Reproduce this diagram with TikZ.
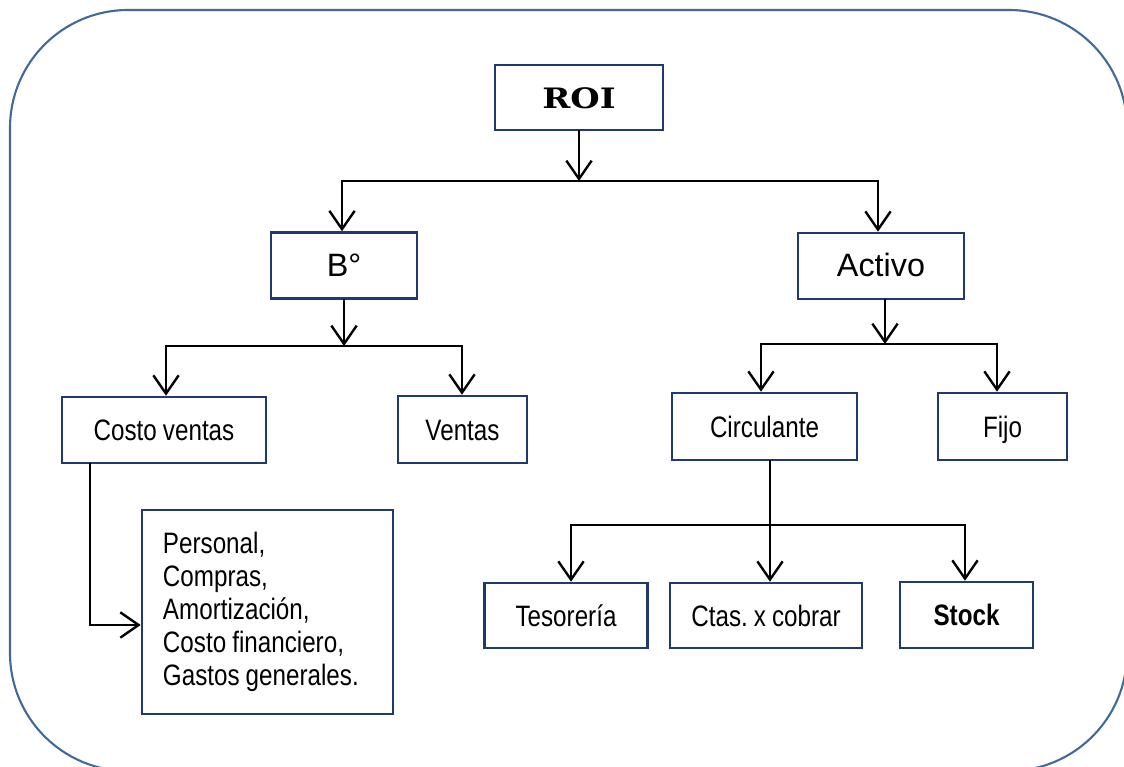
\documentclass[tikz,border=0pt]{standalone}
\usepackage{fontspec}
\setmainfont{Liberation Sans}
\newfontfamily\narrowfont{Liberation Sans}[FakeStretch=0.82, WordSpace=0.9]
\newfontfamily\roifont{DejaVu Serif}[FakeStretch=1.2]
\usetikzlibrary{arrows.meta}
\definecolor{boxblue}{HTML}{1F3A70}
\definecolor{frameblue}{HTML}{416A9B}

\tikzset{
  box/.style={draw=boxblue, line width=1.8pt, rectangle, inner sep=0pt,
    font=\narrowfont\fontsize{21}{23.5}\selectfont},
  onebox/.style={box, text height=17pt, text depth=2pt},
  arr/.style={-{Straight Barb[length=13pt,width=18pt]}, line width=1.7pt},
  link/.style={line width=1.7pt}
}

\begin{document}
\frenchspacing
\begin{tikzpicture}[x=0.025cm, y=-0.025cm, line cap=rect]
        \clip (0,0) rectangle (1124,767);
        \draw[frameblue, line width=1.5pt, rounded corners=2.95cm] (10,10) rectangle (1127,771);

        % boxes
        \node[onebox, minimum width=4.2cm, minimum height=1.625cm,
          font=\roifont\bfseries\fontsize{20}{22}\selectfont] (roi) at (579,97.5) {ROI};
        \node[onebox, minimum width=3.65cm, minimum height=1.65cm,
          font=\fontsize{23}{26}\selectfont] (bo) at (344,265.5) {B°};
        \node[onebox, minimum width=4.15cm, minimum height=1.65cm,
          font=\fontsize{23}{26}\selectfont] (activo) at (881,266) {Activo};
        \node[onebox, minimum width=5.1cm, minimum height=1.65cm] (costo) at (164,430) {Costo ventas};
        \node[onebox, minimum width=3.225cm, minimum height=1.675cm] (ventas) at (462.5,429.5) {Ventas};
        \node[onebox, minimum width=4.625cm, minimum height=1.675cm] (circ) at (764.5,426.5) {Circulante};
        \node[onebox, minimum width=3.225cm, minimum height=1.675cm] (fijo) at (1002.5,426.5) {Fijo};
        \node[onebox, minimum width=4.075cm, minimum height=1.625cm] (teso) at (566,615.5) {Tesorería};
        \node[onebox, minimum width=4.8cm, minimum height=1.625cm] (ctas) at (766,615.5) {Ctas. x cobrar};
        \node[onebox, minimum width=3.325cm, minimum height=1.65cm] (stock) at (966.5,615) {\bfseries Stock};
        \node[box, minimum width=6.275cm, minimum height=5.1cm, text width=5.225cm, align=left]
          (lista) at (267.5,612)
          {\spaceskip=0pt\relax Personal,\\Compras,\\Amortización,\\Costo financiero,\\Gastos generales.};

        % ROI
        \coordinate (r) at (579,181);
        \coordinate (rl) at (342,181);
        \coordinate (rr) at (878,181);
        \draw[arr] (roi) -- (r);
        \draw[link] (rl) -- (rr);
        \draw[arr] (rl) -- (rl |- bo.north);
        \draw[arr] (rr) -- (rr |- activo.north);

        % B
        \coordinate (b) at (344,346);
        \coordinate (bl) at (166,346);
        \coordinate (br) at (462,346);
        \draw[arr] (bo) -- (b);
        \draw[link] (bl) -- (br);
        \draw[arr] (bl) -- (bl |- costo.north);
        \draw[arr] (br) -- (br |- ventas.north);

        % Activo
        \coordinate (a) at (885,344);
        \coordinate (al) at (761,344);
        \coordinate (ar) at (997,344);
        \draw[arr] (a |- activo.south) -- (a);
        \draw[link] (al) -- (ar);
        \draw[arr] (al) -- (al |- circ.north);
        \draw[arr] (ar) -- (ar |- fijo.north);

        % Circulante
        \coordinate (c) at (770,525);
        \coordinate (cl) at (571,525);
        \coordinate (cr) at (965,525);
        \draw[arr] (c |- circ.south) -- (c |- ctas.north);
        \draw[link] (cl) -- (cr);
        \draw[arr] (cl) -- (cl |- teso.north);
        \draw[arr] (cr) -- (cr |- stock.north);

        % Costo ventas
        \coordinate (k) at (90,625);
        \draw[arr] (k |- costo.south) -- (k) -- (lista.west |- k);
\end{tikzpicture}
\end{document}
